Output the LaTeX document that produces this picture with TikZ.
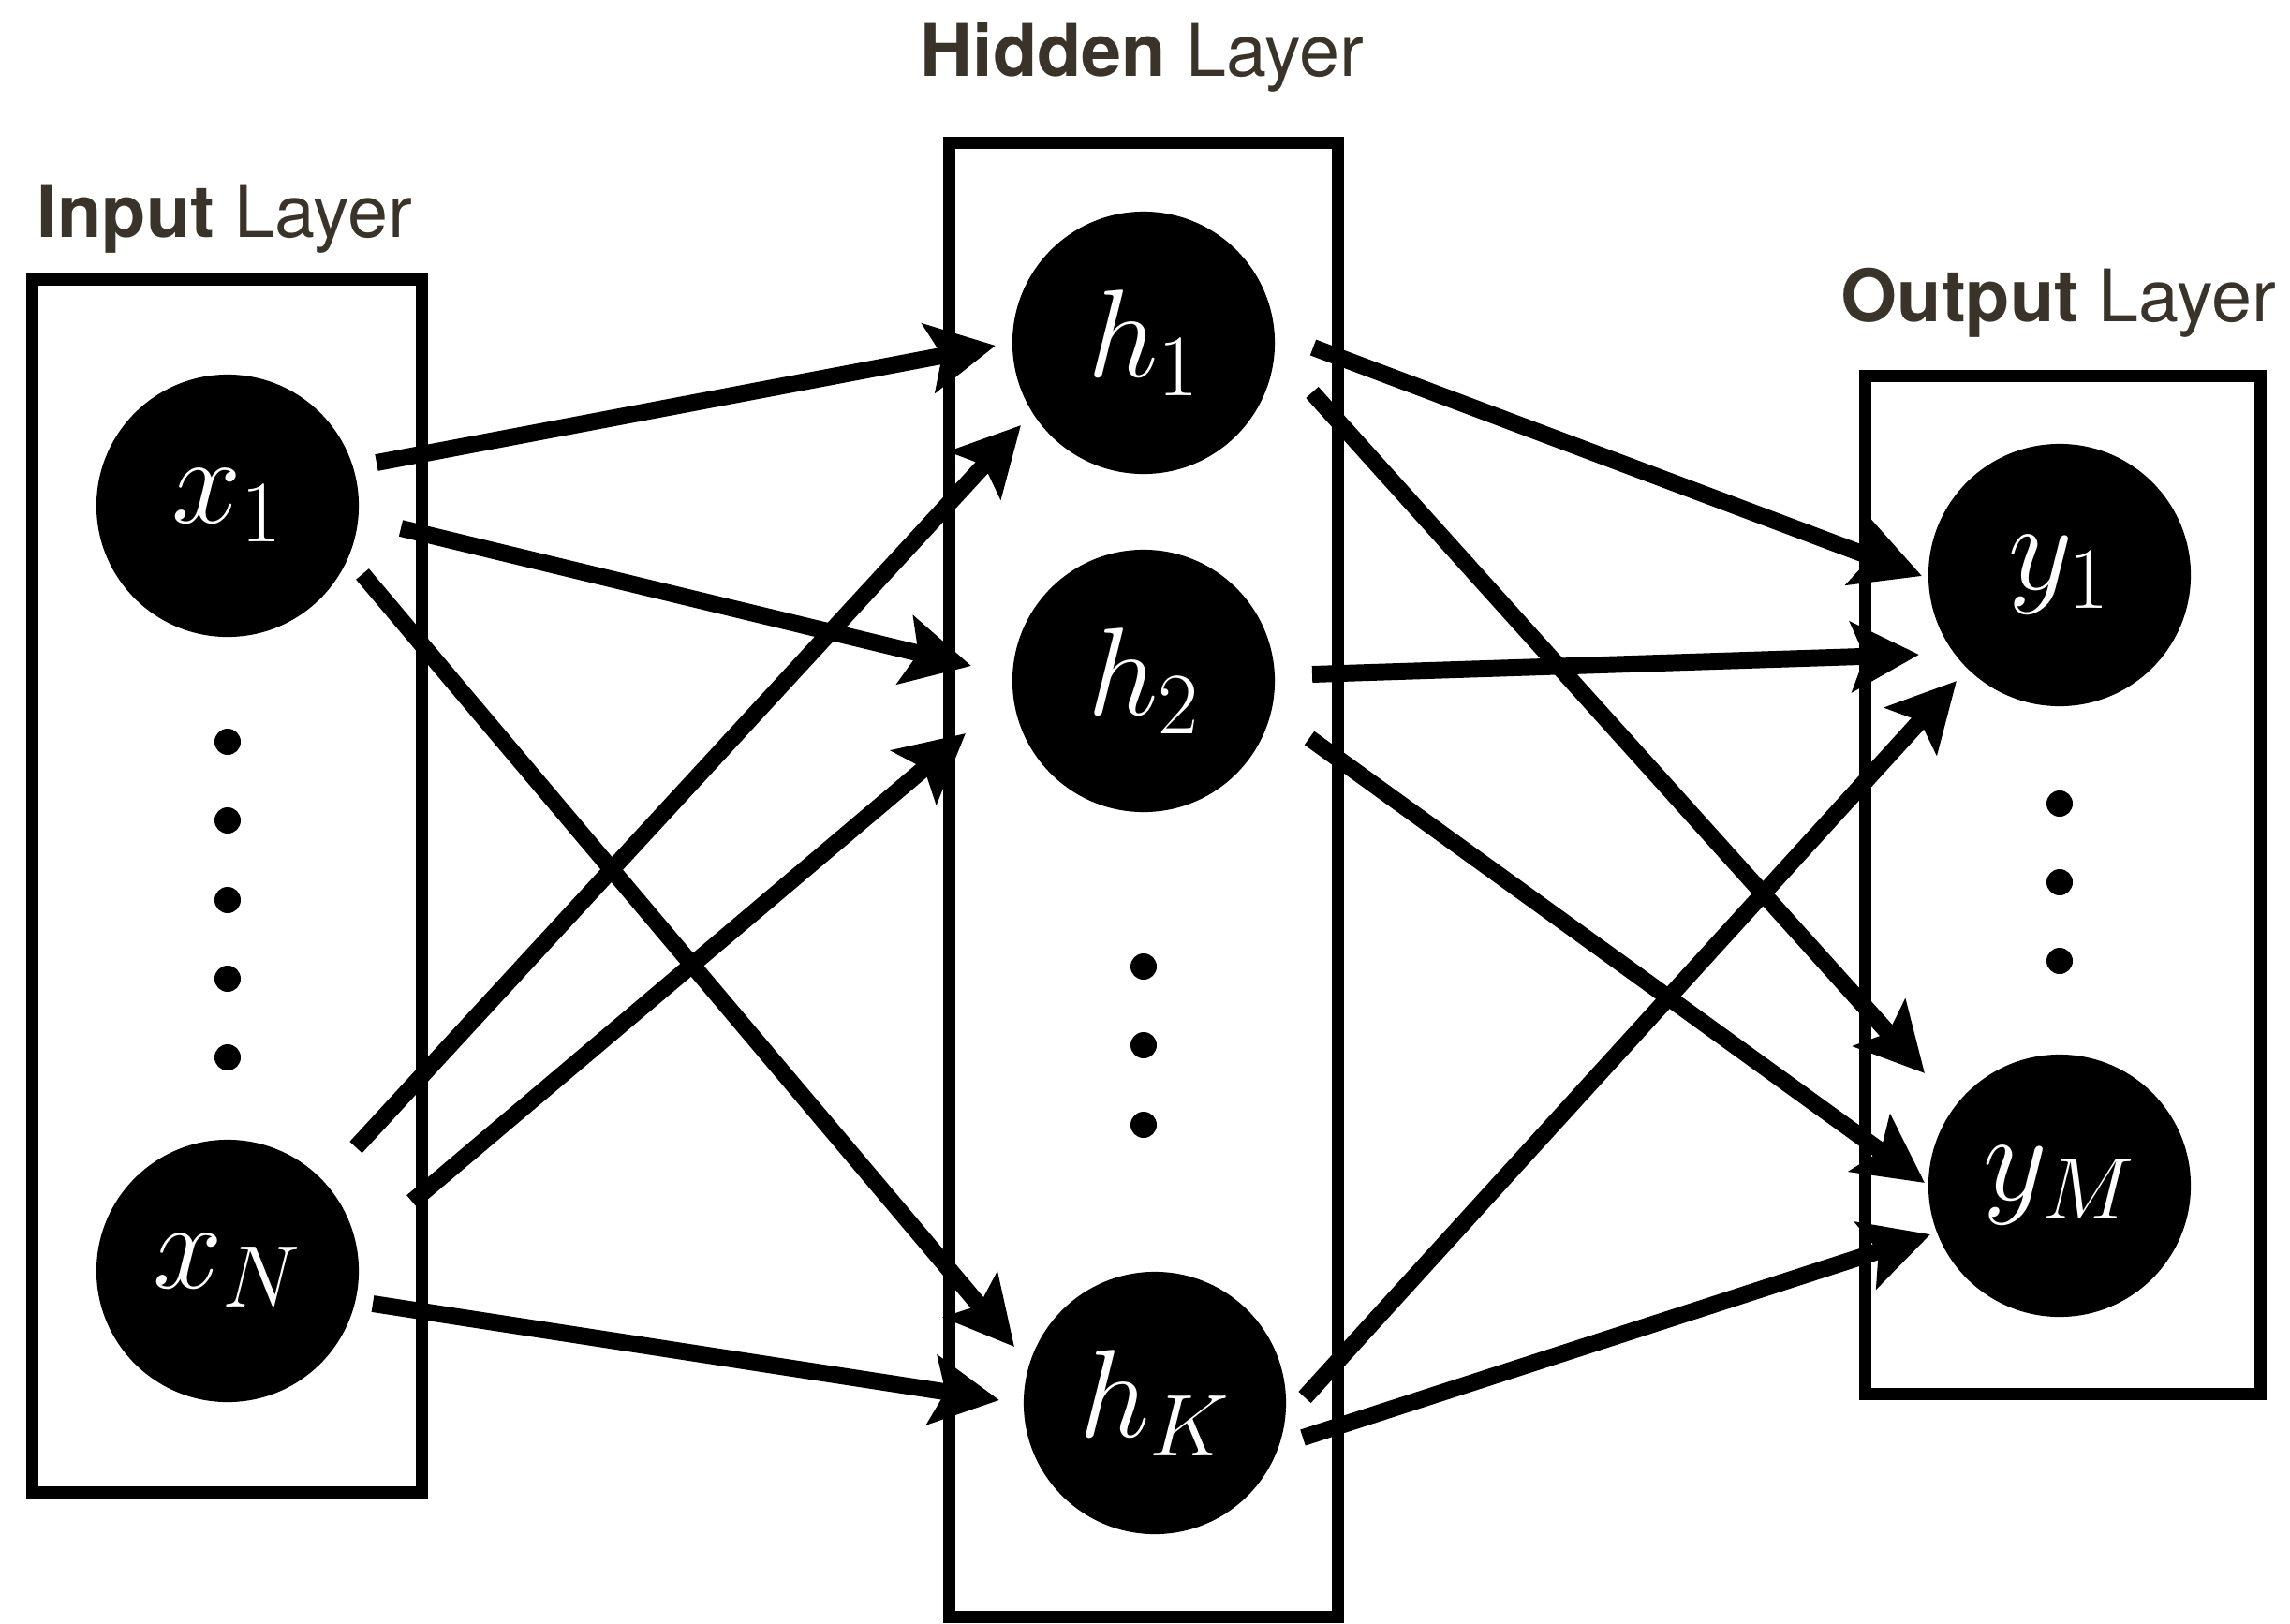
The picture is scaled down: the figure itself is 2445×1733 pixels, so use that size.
\RequirePackage{fix-cm}
\documentclass[tikz,border=0pt]{standalone}
\usepackage{fontspec}
\newfontfamily\labelfont{TeX Gyre Heros}
\usetikzlibrary{arrows.meta,calc}
\definecolor{labelink}{RGB}{58,51,41}
\begin{document}
\begin{tikzpicture}[x=0.01cm,y=-0.01cm,
  layerbox/.style={draw,line width=3.7pt,inner sep=0pt,outer sep=0pt},
  unit/.style={circle,fill=black,text=white,minimum size=2.8cm,inner sep=0pt,
    font=\fontsize{38}{42}\selectfont},
  dotmark/.style={circle,fill=black,minimum size=0.28cm,inner sep=0pt},
  link/.style={line width=5.1pt,-{Stealth[length=20.5pt,width=21pt,inset=4pt]}},
  title/.style={anchor=base west,text=labelink,inner sep=0pt,
    font=\labelfont\fontsize{22}{26}\selectfont}]
\useasboundingbox (0,0) rectangle (2445,1733);

% layer titles
\node[title] (tin)  at (39,253)  {\textbf{Input} Layer};
\node[title] (thid) at (982,81)  {\textbf{Hidden} Layer};
\node[title] (tout) at (1965,343) {\textbf{Output} Layer};

% layer frames
\node[layerbox,minimum width=4.15cm,minimum height=12.94cm] (inbox)  at (242.5,946) {};
\node[layerbox,minimum width=4.14cm,minimum height=15.73cm] (hidbox) at (1221,939.5) {};
\node[layerbox,minimum width=4.21cm,minimum height=10.86cm] (outbox) at (2202.5,945) {};

% units
\node[unit] (x1) at (243,540)  {$x_1$};
\node[unit] (xN) at (243,1357) {$x_N$};
\node[unit] (h1) at (1221,366) {$h_1$};
\node[unit] (h2) at (1221,727) {$h_2$};
\node[unit] (hK) at (1233,1498) {$h_K$};
\node[unit] (y1) at (2199,614) {$y_1$};
\node[unit] (yM) at (2199,1266) {$y_M$};

% ellipsis dots
\foreach \i/\y in {1/792,2/876,3/961,4/1045,5/1129}
  \node[dotmark] (xdot\i) at (243,\y) {};
\foreach \i/\y in {1/1032,2/1116,3/1201}
  \node[dotmark] (hdot\i) at (1221,\y) {};
\foreach \i/\y in {1/858,2/942,3/1026}
  \node[dotmark] (ydot\i) at (2199,\y) {};

% input -> hidden
\draw[link] ($(x1)+(159,-46)$)  -- ($(h1)+(-158,3)$);
\draw[link] ($(x1)+(185,24)$)   -- ($(h2)+(-184,-16)$);
\draw[link] ($(x1)+(144,73)$)   -- ($(hK)+(-150,-60)$);
\draw[link] ($(xN)+(137,-132)$) -- ($(h1)+(-131,88)$);
\draw[link] ($(xN)+(197,-74)$)  -- ($(h2)+(-190,56)$);
\draw[link] ($(xN)+(155,35)$)   -- ($(hK)+(-166,-3)$);

% hidden -> output
\draw[link] ($(h1)+(181,5)$)   -- ($(y1)+(-147,1)$);
\draw[link] ($(h1)+(180,53)$)  -- ($(yM)+(-144,-120)$);
\draw[link] ($(h2)+(180,-7)$)  -- ($(y1)+(-150,85)$);
\draw[link] ($(h2)+(177,61)$)  -- ($(yM)+(-144,-3)$);
\draw[link] ($(hK)+(160,-6)$)  -- ($(y1)+(-110,113)$);
\draw[link] ($(hK)+(158,37)$)  -- ($(yM)+(-138,52)$);
\end{tikzpicture}
\end{document}
